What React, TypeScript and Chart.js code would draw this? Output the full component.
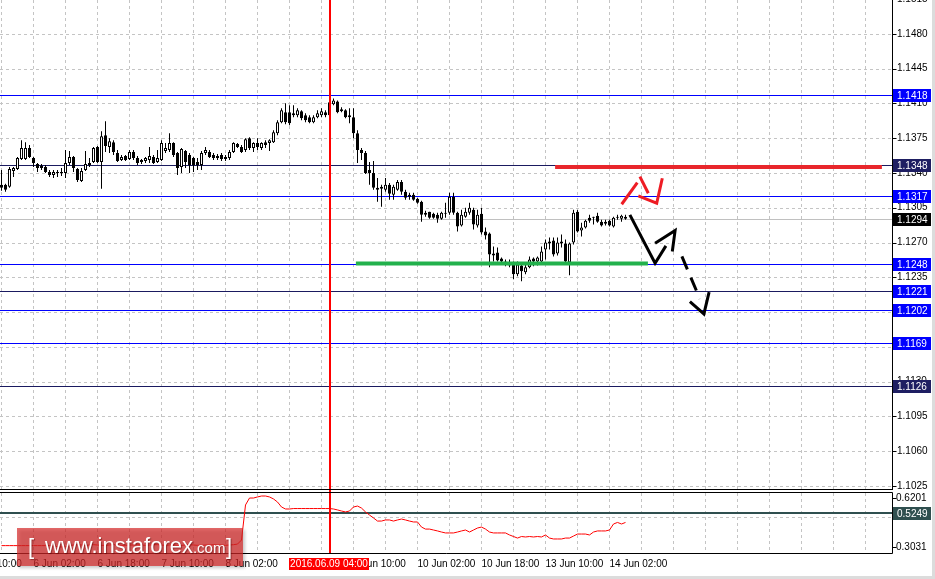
import React, { useEffect, useRef } from "react";
import { Chart, registerables } from "chart.js";

Chart.register(...registerables);

// ------------------------------------------------------------------ data
// EURUSD H1 candles, bar index 0 = 3 Jun 18:00 ... 156 = 14 Jun 06:00
const openP = [
  1.1328, 1.1328, 1.1326, 1.1342, 1.1344, 1.1354, 1.1354, 1.1365, 1.1355, 1.1349,
  1.1347, 1.1346, 1.1341, 1.1338, 1.1341, 1.1340, 1.1340, 1.1350, 1.1356, 1.1344,
  1.1332, 1.1343, 1.1348, 1.1351, 1.1366, 1.1351, 1.1378, 1.1366, 1.1371, 1.1360,
  1.1353, 1.1357, 1.1354, 1.1361, 1.1355, 1.1351, 1.1352, 1.1353, 1.1356, 1.1351,
  1.1353, 1.1362, 1.1363, 1.1370, 1.1360, 1.1346, 1.1362, 1.1358, 1.1355, 1.1351,
  1.1348, 1.1360, 1.1361, 1.1358, 1.1357, 1.1358, 1.1356, 1.1355, 1.1361, 1.1369,
  1.1366, 1.1363, 1.1375, 1.1365, 1.1370, 1.1365, 1.1371, 1.1370, 1.1371, 1.1380,
  1.1391, 1.1401, 1.1401, 1.1398, 1.1398, 1.1402, 1.1398, 1.1396, 1.1391, 1.1396,
  1.1398, 1.1401, 1.1398, 1.1409, 1.1412, 1.1404, 1.1403, 1.1398, 1.1396, 1.1380,
  1.1363, 1.1360, 1.1343, 1.1340, 1.1325, 1.1324, 1.1323, 1.1328, 1.1318, 1.1323,
  1.1331, 1.1321, 1.1318, 1.1318, 1.1314, 1.1311, 1.1300, 1.1301, 1.1299, 1.1298,
  1.1294, 1.1300, 1.1300, 1.1316, 1.1300, 1.1287, 1.1296, 1.1300, 1.1303, 1.1287,
  1.1299, 1.1281, 1.1279, 1.1259, 1.1260, 1.1254, 1.1251, 1.1250, 1.1250, 1.1238,
  1.1247, 1.1240, 1.1245, 1.1254, 1.1251, 1.1251, 1.1263, 1.1269, 1.1272, 1.1259,
  1.1271, 1.1269, 1.1250, 1.1270, 1.1301, 1.1282, 1.1285, 1.1295, 1.1295, 1.1297,
  1.1291, 1.1289, 1.1292, 1.1286, 1.1296, 1.1294, 1.1296,
];
const highP = [
  1.1343, 1.1329, 1.1346, 1.1346, 1.1356, 1.1373, 1.1371, 1.1368, 1.1356, 1.1350,
  1.1349, 1.1348, 1.1343, 1.1343, 1.1343, 1.1345, 1.1363, 1.1362, 1.1357, 1.1345,
  1.1345, 1.1362, 1.1355, 1.1366, 1.1367, 1.1382, 1.1392, 1.1375, 1.1373, 1.1363,
  1.1358, 1.1358, 1.1363, 1.1363, 1.1357, 1.1354, 1.1356, 1.1366, 1.1358, 1.1363,
  1.1373, 1.1370, 1.1380, 1.1371, 1.1361, 1.1365, 1.1363, 1.1360, 1.1356, 1.1355,
  1.1362, 1.1366, 1.1363, 1.1360, 1.1359, 1.1360, 1.1358, 1.1363, 1.1371, 1.1370,
  1.1368, 1.1375, 1.1376, 1.1371, 1.1375, 1.1371, 1.1373, 1.1374, 1.1383, 1.1393,
  1.1405, 1.1410, 1.1408, 1.1408, 1.1405, 1.1403, 1.1400, 1.1398, 1.1398, 1.1403,
  1.1405, 1.1403, 1.1413, 1.1415, 1.1413, 1.1406, 1.1404, 1.1405, 1.1405, 1.1383,
  1.1365, 1.1362, 1.1351, 1.1352, 1.1335, 1.1328, 1.1335, 1.1330, 1.1328, 1.1333,
  1.1333, 1.1323, 1.1320, 1.1320, 1.1315, 1.1312, 1.1302, 1.1301, 1.1300, 1.1300,
  1.1301, 1.1310, 1.1320, 1.1320, 1.1301, 1.1303, 1.1305, 1.1310, 1.1305, 1.1303,
  1.1305, 1.1285, 1.1280, 1.1266, 1.1265, 1.1255, 1.1253, 1.1253, 1.1251, 1.1251,
  1.1250, 1.1248, 1.1256, 1.1255, 1.1256, 1.1266, 1.1273, 1.1275, 1.1275, 1.1275,
  1.1278, 1.1273, 1.1270, 1.1303, 1.1303, 1.1290, 1.1293, 1.1298, 1.1296, 1.1300,
  1.1293, 1.1293, 1.1293, 1.1296, 1.1298, 1.1298, 1.1298,
];
const lowP = [
  1.1322, 1.1321, 1.1325, 1.1336, 1.1343, 1.1353, 1.1353, 1.1355, 1.1346, 1.1341,
  1.1343, 1.1340, 1.1336, 1.1335, 1.1336, 1.1337, 1.1335, 1.1348, 1.1341, 1.1331,
  1.1331, 1.1342, 1.1346, 1.1350, 1.1350, 1.1324, 1.1361, 1.1360, 1.1358, 1.1351,
  1.1352, 1.1352, 1.1353, 1.1353, 1.1348, 1.1349, 1.1350, 1.1350, 1.1349, 1.1350,
  1.1352, 1.1360, 1.1361, 1.1356, 1.1338, 1.1340, 1.1345, 1.1340, 1.1341, 1.1343,
  1.1343, 1.1358, 1.1355, 1.1353, 1.1353, 1.1352, 1.1352, 1.1353, 1.1360, 1.1365,
  1.1360, 1.1361, 1.1363, 1.1361, 1.1363, 1.1363, 1.1365, 1.1362, 1.1370, 1.1378,
  1.1390, 1.1389, 1.1388, 1.1396, 1.1396, 1.1393, 1.1391, 1.1390, 1.1390, 1.1395,
  1.1396, 1.1396, 1.1395, 1.1408, 1.1400, 1.1401, 1.1395, 1.1390, 1.1375, 1.1350,
  1.1353, 1.1339, 1.1328, 1.1323, 1.1311, 1.1306, 1.1321, 1.1313, 1.1313, 1.1322,
  1.1318, 1.1313, 1.1313, 1.1312, 1.1309, 1.1291, 1.1296, 1.1294, 1.1294, 1.1290,
  1.1293, 1.1295, 1.1298, 1.1298, 1.1281, 1.1286, 1.1295, 1.1298, 1.1283, 1.1285,
  1.1278, 1.1273, 1.1245, 1.1251, 1.1251, 1.1248, 1.1246, 1.1245, 1.1233, 1.1236,
  1.1231, 1.1238, 1.1244, 1.1246, 1.1247, 1.1250, 1.1253, 1.1263, 1.1256, 1.1257,
  1.1265, 1.1250, 1.1237, 1.1268, 1.1280, 1.1276, 1.1284, 1.1290, 1.1288, 1.1290,
  1.1286, 1.1287, 1.1286, 1.1285, 1.1293, 1.1291, 1.1293,
];
const closeP = [
  1.1325, 1.1323, 1.1344, 1.1345, 1.1355, 1.1365, 1.1365, 1.1356, 1.1350, 1.1345,
  1.1345, 1.1341, 1.1338, 1.1341, 1.1340, 1.1341, 1.1350, 1.1356, 1.1345, 1.1333,
  1.1342, 1.1349, 1.1350, 1.1365, 1.1351, 1.1377, 1.1367, 1.1372, 1.1361, 1.1352,
  1.1356, 1.1353, 1.1361, 1.1355, 1.1350, 1.1353, 1.1355, 1.1357, 1.1350, 1.1355,
  1.1370, 1.1365, 1.1370, 1.1358, 1.1345, 1.1364, 1.1351, 1.1348, 1.1348, 1.1348,
  1.1360, 1.1363, 1.1356, 1.1355, 1.1355, 1.1354, 1.1354, 1.1361, 1.1370, 1.1366,
  1.1361, 1.1374, 1.1365, 1.1370, 1.1366, 1.1370, 1.1368, 1.1373, 1.1381, 1.1391,
  1.1403, 1.1391, 1.1390, 1.1400, 1.1403, 1.1395, 1.1393, 1.1391, 1.1396, 1.1400,
  1.1402, 1.1398, 1.1411, 1.1413, 1.1401, 1.1402, 1.1396, 1.1396, 1.1380, 1.1363,
  1.1360, 1.1340, 1.1340, 1.1325, 1.1323, 1.1326, 1.1328, 1.1319, 1.1326, 1.1331,
  1.1321, 1.1315, 1.1316, 1.1313, 1.1310, 1.1298, 1.1298, 1.1295, 1.1295, 1.1294,
  1.1300, 1.1299, 1.1316, 1.1300, 1.1286, 1.1298, 1.1301, 1.1305, 1.1288, 1.1298,
  1.1280, 1.1277, 1.1258, 1.1257, 1.1252, 1.1251, 1.1250, 1.1247, 1.1238, 1.1248,
  1.1241, 1.1245, 1.1253, 1.1251, 1.1255, 1.1261, 1.1270, 1.1271, 1.1258, 1.1270,
  1.1269, 1.1251, 1.1269, 1.1300, 1.1281, 1.1285, 1.1292, 1.1292, 1.1296, 1.1291,
  1.1287, 1.1291, 1.1287, 1.1295, 1.1295, 1.1297, 1.1294,
];

// oscillator sub-window values (one per bar)
const oscValues = [
  0.312, 0.312, 0.312, 0.312, 0.312, 0.312, 0.312, 0.312, 0.312, 0.312,
  0.312, 0.312, 0.312, 0.310, 0.305, 0.303, 0.305, 0.312, 0.316, 0.318,
  0.316, 0.314, 0.316, 0.318, 0.316, 0.314, 0.314, 0.316, 0.318, 0.316,
  0.314, 0.314, 0.316, 0.316, 0.318, 0.316, 0.314, 0.316, 0.318, 0.318,
  0.316, 0.314, 0.316, 0.316, 0.314, 0.314, 0.316, 0.318, 0.316, 0.314,
  0.314, 0.316, 0.316, 0.318, 0.316, 0.316, 0.314, 0.316, 0.318, 0.322,
  0.348, 0.575, 0.620, 0.620, 0.627, 0.633, 0.633, 0.627, 0.614, 0.594,
  0.562, 0.549, 0.549, 0.552, 0.552, 0.552, 0.552, 0.552, 0.552, 0.552,
  0.552, 0.552, 0.552, 0.549, 0.543, 0.536, 0.530, 0.536, 0.562, 0.568,
  0.555, 0.530, 0.510, 0.491, 0.471, 0.471, 0.478, 0.478, 0.471, 0.478,
  0.484, 0.478, 0.471, 0.465, 0.465, 0.432, 0.419, 0.419, 0.413, 0.407,
  0.400, 0.394, 0.394, 0.394, 0.400, 0.407, 0.413, 0.400, 0.413, 0.426,
  0.432, 0.419, 0.400, 0.394, 0.394, 0.394, 0.394, 0.381, 0.371, 0.361,
  0.371, 0.368, 0.371, 0.368, 0.371, 0.368, 0.381, 0.361, 0.355, 0.355,
  0.355, 0.361, 0.361, 0.374, 0.387, 0.387, 0.387, 0.381, 0.400, 0.407,
  0.407, 0.407, 0.413, 0.452, 0.462, 0.452, 0.462,
];

const priceTicks = [
  1.1025, 1.106, 1.1095, 1.113, 1.1165, 1.12, 1.1235, 1.127, 1.1305, 1.134,
  1.1375, 1.141, 1.1445, 1.148, 1.1515,
];
const oscTicks = [0.6201, 0.5, 0.3031];
const oscTickLabels = ["0.6201", "0.5", "0.3031"];

const timeTickIdx = [-8, 8, 24, 40, 56, 72, 88, 104, 120, 136, 152];
const timeTickLabels = [
  "3 Jun 10:00", "6 Jun 02:00", "6 Jun 18:00", "7 Jun 10:00", "8 Jun 02:00",
  "8 Jun 18:00", "9 Jun 10:00", "10 Jun 02:00", "10 Jun 18:00", "13 Jun 10:00",
  "14 Jun 02:00",
];

const levelValues = [1.1418, 1.1348, 1.1317, 1.1294, 1.1248, 1.1221, 1.1202, 1.1169, 1.1126];
const oscLevel = 0.5249;

const crossIdx = 82;
const crossLabel = "2016.06.09 04:00";

// thick hand-drawn levels: [fromIdx, toIdx, price]
const resistanceZone = [138.4, 220.1, 1.1346];
const supportZone = [88.6, 161.6, 1.1249];

// hand-drawn arrows, points as [barIdx, price]
const redArrow = [
  [[155.05, 1.13085], [158.95, 1.13303]],
  [[159.6, 1.13363], [161.7, 1.13196]],
  [[159.2, 1.13169], [163.8, 1.13095], [165.2, 1.13347]],
];
const blackArrow = [
  [[157.1, 1.12978], [163.4, 1.12492], [166.1, 1.12666]],
  [[163.4, 1.12693], [168.4, 1.1282], [167.7, 1.12609]],
  [[172.1, 1.12106], [175.6, 1.11982], [176.9, 1.122]],
];
const blackDashed = [[170.1, 1.1256], [174.6, 1.12133]];

// ------------------------------------------------------------------ style
const FONT = '"Liberation Sans", Arial, sans-serif';
const X_MIN = -0.375;
const X_MAX = 222.625;
const Y_MIN = 1.1021;
const Y_MAX = 1.1514;
const OSC_MIN = 0.2578;
const OSC_MAX = 0.6525;
const GRID_STEP = 8;
const AXIS_W = 43;
const BLUE = "#0000ff";
const NAVY = "#1a1a60";
const LEVEL_LINE = [BLUE, NAVY, BLUE, "#c0c0c0", BLUE, NAVY, BLUE, BLUE, NAVY];
const LEVEL_BOX = [BLUE, "#1e1e62", BLUE, "#000000", BLUE, BLUE, BLUE, BLUE, "#1e1e62"];
const GRID_COLOR = "#c4c4c4";
const CROSS_COLOR = "#ff0000";

const crisp = (v: number) => Math.round(v) + 0.5;

function line(ctx: any, x1: number, y1: number, x2: number, y2: number) {
  ctx.beginPath();
  ctx.moveTo(x1, y1);
  ctx.lineTo(x2, y2);
  ctx.stroke();
}

function drawVGrid(ctx: any, x: any, top: number, bottom: number) {
  ctx.save();
  ctx.strokeStyle = GRID_COLOR;
  ctx.lineWidth = 1;
  ctx.setLineDash([3, 3]);
  for (let i = 0; i <= X_MAX; i += GRID_STEP) {
    const px = Math.floor(x.getPixelForValue(i)) + 0.5;
    line(ctx, px, top, px, bottom);
  }
  ctx.restore();
}

function drawCross(ctx: any, x: any, top: number, bottom: number) {
  ctx.save();
  ctx.strokeStyle = CROSS_COLOR;
  ctx.lineWidth = 2;
  const cx = Math.round(x.getPixelForValue(crossIdx));
  line(ctx, cx, top, cx, bottom);
  ctx.restore();
}

function drawBox(ctx: any, left: number, yc: number, text: string, bg: string) {
  const y0 = Math.round(yc) - 6;
  ctx.fillStyle = bg;
  ctx.fillRect(left + 1, y0, 38, 13);
  ctx.fillStyle = "#ffffff";
  ctx.font = `10px ${FONT}`;
  ctx.textAlign = "left";
  ctx.textBaseline = "middle";
  ctx.fillText(text, left + 5, y0 + 7);
}

function drawFrameEdges(ctx: any, w: number, h: number) {
  ctx.fillStyle = "#dcdcdc";
  ctx.fillRect(w - 3, 0, 3, h);
}

// ------------------------------------------------------------------ plugins
const mainPlugin = {
  id: "mainDecor",
  beforeDatasetsDraw(chart: any) {
    const { ctx, chartArea: a, scales } = chart;
    const x = scales.x;
    const y = scales.y;
    drawVGrid(ctx, x, a.top, a.bottom);
    ctx.save();
    ctx.strokeStyle = GRID_COLOR;
    ctx.lineWidth = 1;
    ctx.setLineDash([3, 3]);
    priceTicks.forEach((t) => {
      const py = crisp(y.getPixelForValue(t));
      if (py > a.top && py < a.bottom) line(ctx, a.left, py, a.right, py);
    });
    ctx.setLineDash([]);
    levelValues.forEach((v, k) => {
      ctx.strokeStyle = LEVEL_LINE[k];
      const py = crisp(y.getPixelForValue(v));
      line(ctx, a.left, py, a.right, py);
    });
    ctx.restore();
  },
  afterDatasetsDraw(chart: any) {
    const { ctx, scales } = chart;
    const x = scales.x;
    const y = scales.y;
    const P = (pt: number[]) => [x.getPixelForValue(pt[0]), y.getPixelForValue(pt[1])];
    const poly = (pts: number[][]) => {
      ctx.beginPath();
      pts.forEach((pt, k) => {
        const [X, Y] = P(pt);
        if (k) ctx.lineTo(X, Y);
        else ctx.moveTo(X, Y);
      });
      ctx.stroke();
    };
    ctx.save();
    ctx.lineWidth = 4;
    ctx.strokeStyle = "#e8262b";
    poly([[resistanceZone[0], resistanceZone[2]], [resistanceZone[1], resistanceZone[2]]]);
    ctx.strokeStyle = "#22b14c";
    poly([[supportZone[0], supportZone[2]], [supportZone[1], supportZone[2]]]);
    ctx.lineWidth = 3;
    ctx.lineJoin = "miter";
    ctx.strokeStyle = "#ee1c24";
    redArrow.forEach(poly);
    ctx.strokeStyle = "#000000";
    blackArrow.forEach(poly);
    ctx.setLineDash([14, 9]);
    poly(blackDashed);
    ctx.setLineDash([]);
    ctx.restore();
    drawCross(ctx, x, 0, chart.height);
  },
  afterDraw(chart: any) {
    const { ctx, chartArea: a, scales } = chart;
    const y = scales.y;
    ctx.save();
    ctx.strokeStyle = "#000";
    ctx.lineWidth = 1;
    const ax = a.right + 0.5;
    line(ctx, ax, 0, ax, a.bottom);
    line(ctx, 0, a.bottom - 0.5, ax, a.bottom - 0.5);
    priceTicks.forEach((t) => {
      const py = crisp(y.getPixelForValue(t));
      if (py > 0 && py < a.bottom) line(ctx, ax, py, ax + 4, py);
    });
    levelValues.forEach((v, k) => {
      drawBox(ctx, a.right, y.getPixelForValue(v), v.toFixed(4), LEVEL_BOX[k]);
    });
    drawFrameEdges(ctx, chart.width, chart.height);
    ctx.restore();
  },
};

const oscPlugin = {
  id: "oscDecor",
  beforeDatasetsDraw(chart: any) {
    const { ctx, chartArea: a, scales } = chart;
    const x = scales.x;
    const y = scales.y;
    drawVGrid(ctx, x, a.top, a.bottom);
    ctx.save();
    ctx.strokeStyle = GRID_COLOR;
    ctx.setLineDash([3, 3]);
    const p5 = crisp(y.getPixelForValue(oscTicks[1]));
    line(ctx, a.left, p5, a.right, p5);
    ctx.setLineDash([]);
    ctx.strokeStyle = "#2f4f4f";
    ctx.lineWidth = 2;
    const pl = Math.round(y.getPixelForValue(oscLevel));
    line(ctx, a.left, pl, a.right, pl);
    ctx.restore();
  },
  afterDatasetsDraw(chart: any) {
    const { ctx, chartArea: a, scales } = chart;
    drawCross(ctx, scales.x, 0, a.bottom);
  },
  afterDraw(chart: any) {
    const { ctx, chartArea: a, scales } = chart;
    const x = scales.x;
    const y = scales.y;
    ctx.save();
    ctx.strokeStyle = "#000";
    ctx.lineWidth = 1;
    const ax = a.right + 0.5;
    const top = a.top - 0.5;
    const bot = a.bottom - 0.5;
    line(ctx, 0, top, ax, top);
    line(ctx, 0, bot, ax, bot);
    line(ctx, ax, top, ax, bot);
    oscTicks.forEach((t) => {
      const py = crisp(y.getPixelForValue(t));
      line(ctx, ax, py, ax + 4, py);
    });
    drawBox(ctx, a.right, y.getPixelForValue(oscLevel), oscLevel.toFixed(4), "#2f4f4f");

    const cx = x.getPixelForValue(crossIdx);
    ctx.fillStyle = CROSS_COLOR;
    ctx.fillRect(Math.round(cx) - 41, a.bottom + 4, 80, 12);
    ctx.fillStyle = "#ffffff";
    ctx.font = `10px ${FONT}`;
    ctx.textAlign = "center";
    ctx.textBaseline = "middle";
    ctx.fillText(crossLabel, Math.round(cx) - 1, a.bottom + 10.5);

    ctx.fillStyle = "#dcdcdc";
    ctx.fillRect(0, chart.height - 3, chart.width, 3);
    drawFrameEdges(ctx, chart.width, chart.height);

    ctx.save();
    ctx.shadowColor = "rgba(0,0,0,0.3)";
    ctx.shadowOffsetX = 2;
    ctx.shadowOffsetY = 2;
    ctx.shadowBlur = 3;
    ctx.fillStyle = "rgba(214, 40, 40, 0.7)";
    ctx.fillRect(17, 38, 226, 38);
    ctx.restore();
    ctx.save();
    ctx.fillStyle = "#ffffff";
    ctx.shadowColor = "rgba(80,0,0,0.5)";
    ctx.shadowOffsetX = 1;
    ctx.shadowOffsetY = 1;
    ctx.shadowBlur = 1;
    ctx.textBaseline = "alphabetic";
    ctx.textAlign = "left";
    const base = 63;
    ctx.font = `22px ${FONT}`;
    ctx.fillText("[", 28, base + 1);
    ctx.fillText("www.instaforex", 45, base);
    const w1 = ctx.measureText("www.instaforex").width;
    ctx.font = `15px ${FONT}`;
    ctx.fillText(".com", 45 + w1, base);
    ctx.font = `22px ${FONT}`;
    ctx.fillText("]", 226, base + 1);
    ctx.restore();
    ctx.restore();
  },
};

// ------------------------------------------------------------------ charts
function MainChart() {
  const ref = useRef<HTMLCanvasElement>(null);
  useEffect(() => {
    const bull = (i: number) => closeP[i] > openP[i];
    const chart = new Chart(ref.current as HTMLCanvasElement, {
      type: "bar",
      data: {
        datasets: [
          {
            label: "wick",
            data: lowP.map((l, i) => ({ x: i, y: [l, highP[i]] })) as any,
            backgroundColor: "#000000",
            borderWidth: 0,
            barThickness: 1,
            grouped: false,
            order: 2,
            inflateAmount: 0,
          } as any,
          {
            label: "body",
            data: openP.map((o, i) => ({ x: i, y: [o, closeP[i]] })) as any,
            backgroundColor: (c: any) => (bull(c.dataIndex) ? "#ffffff" : "#000000"),
            borderColor: "#000000",
            borderWidth: 1,
            borderSkipped: false,
            barThickness: 3,
            minBarLength: 1,
            grouped: false,
            order: 1,
            inflateAmount: 0,
          } as any,
        ],
      },
      options: {
        animation: false,
        responsive: false,
        devicePixelRatio: 1,
        events: [],
        layout: { padding: 0 },
        plugins: { legend: { display: false }, tooltip: { enabled: false } },
        scales: {
          x: { type: "linear", display: false, offset: false, min: X_MIN, max: X_MAX },
          y: {
            type: "linear",
            position: "right",
            min: Y_MIN,
            max: Y_MAX,
            grid: { display: false, drawTicks: false },
            border: { display: false },
            afterBuildTicks: (s: any) => {
              s.ticks = priceTicks.map((v) => ({ value: v }));
            },
            afterFit: (s: any) => {
              s.width = AXIS_W;
              s.paddingTop = 0;
              s.paddingBottom = 0;
            },
            ticks: {
              autoSkip: false,
              padding: 5,
              color: "#000",
              font: { family: FONT, size: 10 },
              callback: (v: any) => Number(v).toFixed(4),
            },
          },
        },
      } as any,
      plugins: [mainPlugin],
    });
    return () => chart.destroy();
  }, []);
  return <canvas ref={ref} width={935} height={490} style={{ display: "block" }} />;
}

function OscChart() {
  const ref = useRef<HTMLCanvasElement>(null);
  useEffect(() => {
    const chart = new Chart(ref.current as HTMLCanvasElement, {
      type: "line",
      data: {
        datasets: [
          {
            label: "osc",
            data: oscValues.map((v, i) => ({ x: i, y: v })),
            borderColor: "#ff0000",
            borderWidth: 1,
            pointRadius: 0,
            tension: 0,
            fill: false,
          },
        ],
      },
      options: {
        animation: false,
        responsive: false,
        devicePixelRatio: 1,
        events: [],
        layout: { padding: { top: 3, left: 0, right: 0, bottom: 0 } },
        plugins: { legend: { display: false }, tooltip: { enabled: false } },
        scales: {
          x: {
            type: "linear",
            position: "bottom",
            offset: false,
            min: X_MIN,
            max: X_MAX,
            grid: { display: false, drawTicks: false },
            border: { display: false },
            afterBuildTicks: (s: any) => {
              s.ticks = timeTickIdx.map((v) => ({ value: v }));
            },
            afterFit: (s: any) => {
              s.height = 25;
              s.paddingLeft = 0;
              s.paddingRight = 0;
            },
            ticks: {
              autoSkip: false,
              maxRotation: 0,
              minRotation: 0,
              align: "start",
              padding: 4,
              color: "#000",
              font: { family: FONT, size: 10 },
              callback: (_v: any, idx: number) => timeTickLabels[idx],
            },
          },
          y: {
            type: "linear",
            position: "right",
            min: OSC_MIN,
            max: OSC_MAX,
            grid: { display: false, drawTicks: false },
            border: { display: false },
            afterBuildTicks: (s: any) => {
              s.ticks = oscTicks.map((v) => ({ value: v }));
            },
            afterFit: (s: any) => {
              s.width = AXIS_W;
              s.paddingTop = 0;
              s.paddingBottom = 0;
            },
            ticks: {
              autoSkip: false,
              padding: 4,
              color: "#000",
              font: { family: FONT, size: 10 },
              callback: (_v: any, idx: number) => oscTickLabels[idx],
            },
          },
        },
      } as any,
      plugins: [oscPlugin],
    });
    return () => chart.destroy();
  }, []);
  return <canvas ref={ref} width={935} height={89} style={{ display: "block" }} />;
}

export default function App() {
  return (
    <div
      style={{
        position: "fixed",
        left: 0,
        top: 0,
        width: 935,
        height: 579,
        background: "#ffffff",
        overflow: "hidden",
      }}
    >
      <MainChart />
      <OscChart />
    </div>
  );
}
